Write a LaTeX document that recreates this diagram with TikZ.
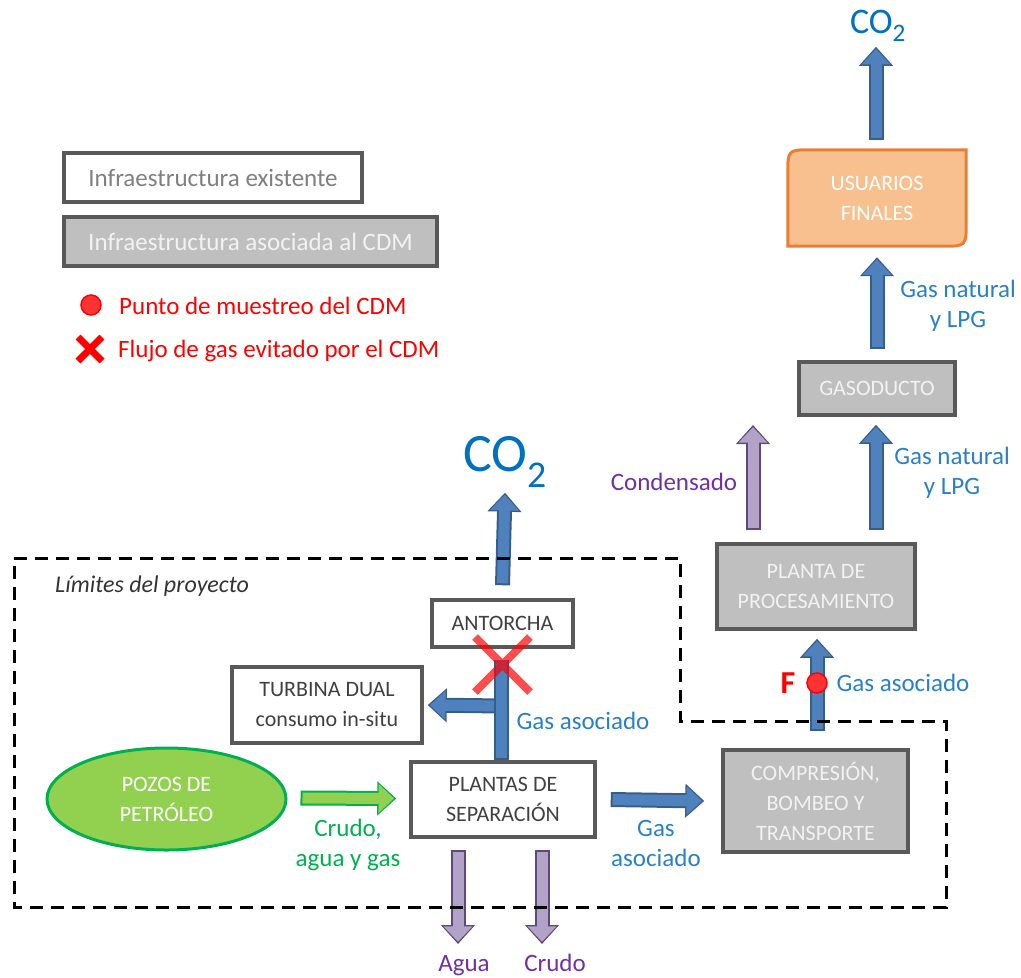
\documentclass[tikz,border=0pt]{standalone}
\usepackage{fontspec}
\setmainfont{Carlito}
\usetikzlibrary{arrows.meta,shapes.geometric,calc,backgrounds}

\definecolor{azulf}{HTML}{4F81BD}
\definecolor{azulb}{HTML}{385D8A}
\definecolor{azultx}{HTML}{2A80C8}
\definecolor{azulco}{HTML}{0070C0}
\definecolor{moradof}{HTML}{B3A2C7}
\definecolor{moradob}{HTML}{5F497A}
\definecolor{moradotx}{HTML}{7030A0}
\definecolor{verdef}{HTML}{92D050}
\definecolor{verdeb}{HTML}{00B050}
\definecolor{grisbox}{HTML}{BFBFBF}
\definecolor{grisborde}{HTML}{595959}
\definecolor{naranjaf}{HTML}{F9C08F}
\definecolor{naranjab}{HTML}{ED7D31}

\tikzset{
  cajatexto/.style={font=\fontsize{22}{30}\selectfont, align=center, inner sep=2pt},
  cajablanca/.style={cajatexto, draw=grisborde, line width=3.5pt, fill=white, text=black!75},
  cajagris/.style={cajatexto, draw=grisborde, line width=3.5pt, fill=grisbox, text=white!95!black},
  etiqueta/.style={font=\fontsize{25}{30}\selectfont, align=center, inner sep=0pt},
  bordeflecha/.style={line width=15pt, -{Triangle[length=19pt,width=33pt]}},
  cuerpoflecha/.style={line width=11pt, shorten >=2.2pt, shorten <=2pt, -{Triangle[length=15.5pt,width=28pt]}},
  limite/.style={draw=black, line width=3pt, dash pattern=on 13pt off 8pt, line join=miter},
  evitado/.style={draw=red, line width=8pt, opacity=0.7}
}

% flecha gruesa con borde: inicio, fin, color
\newcommand{\flecha}[3]{%
  \draw[bordeflecha, draw=#3b] #1 -- #2;
  \draw[cuerpoflecha, draw=#3f] #1 -- #2;}

\begin{document}
\begin{tikzpicture}[x=1pt, y=-1pt]
\useasboundingbox (0,0) rectangle (1021,978);

% leyenda
\node[cajablanca, line width=4pt, minimum width=298, minimum height=49, text=black!50, font=\fontsize{25}{30}\selectfont] (leyexist) at (213,177.5) {Infraestructura existente};
\node[cajagris, line width=4pt, minimum width=373, minimum height=49, font=\fontsize{25}{30}\selectfont] (leycdm) at (250.5,241.5) {Infraestructura asociada al CDM};
\node[circle, fill=red!80, draw=red, line width=1.5pt, minimum size=20, inner sep=0pt] (leypunto) at (91,305) {};
\node[etiqueta, text=red, anchor=west] (leypuntotx) at (119,306) {Punto de muestreo del CDM};
\draw[draw=red, line width=7pt] (78,337) -- (102,361) (78,361) -- (102,337);
\node[etiqueta, text=red, anchor=west] (leyevitadotx) at (118,351) {Flujo de gas evitado por el CDM};

% nodos
\node[font=\fontsize{24}{28}\selectfont\itshape, text=black!80, anchor=west, inner sep=0pt] (limites) at (55,586) {Límites del proyecto};
\node[ellipse, draw=verdeb, fill=verdef, line width=3pt, minimum width=239, minimum height=102, cajatexto, text=white] (pozos) at (166.5,799) {POZOS DE\\PETRÓLEO};
\node[cajablanca, minimum width=184, minimum height=75] (sep) at (503,799.5) {PLANTAS DE\\SEPARACIÓN};
\node[cajablanca, minimum width=190, minimum height=76] (turbina) at (327,705) {TURBINA DUAL\\consumo in-situ};
\node[cajablanca, minimum width=141, minimum height=47] (antorcha) at (502.5,623.5) {ANTORCHA};
\node[cajagris, minimum width=185, minimum height=102] (comp) at (815.5,801) {COMPRESIÓN,\\BOMBEO Y\\TRANSPORTE};
\node[cajagris, minimum width=198, minimum height=85] (planta) at (816,586.5) {PLANTA DE\\PROCESAMIENTO};
\node[cajagris, minimum width=156, minimum height=53] (gasoducto) at (877,388.5) {GASODUCTO};
\node[cajatexto, text=white, minimum width=178, minimum height=96] (usuarios) at (877,198) {USUARIOS\\FINALES};
\begin{scope}[on background layer]
  \draw[draw=naranjab, fill=naranjaf, line width=3pt] (usuarios.south west) -- ([yshift=-24pt]usuarios.north west) .. controls (usuarios.north west) .. ([xshift=24pt]usuarios.north west) -- (usuarios.north east) -- ([yshift=24pt]usuarios.south east) .. controls (usuarios.south east) .. ([xshift=-24pt]usuarios.south east) -- cycle;
\end{scope}
\node[font=\fontsize{54}{60}\selectfont, text=azulco, inner sep=0pt] (co2med) at (505,462) {CO\textsubscript{2}};
\node[font=\fontsize{36}{40}\selectfont, text=azulco, inner sep=0pt] (co2sup) at (878,26) {CO\textsubscript{2}};
\coordinate (cruce) at (501,660);
\coordinate (rama) at (501,706);
\coordinate (condensado) at (753,425);
\coordinate (aguafin) at (458,944);
\coordinate (crudofin) at (542,944);

% flujos
\flecha{(rama)}{($(turbina.east)+(4,0)$)}{azul}
\draw[bordeflecha, -, draw=azulb] (cruce |- sep.north) -- (cruce);
\draw[cuerpoflecha, -, shorten >=0pt, draw=azulf] (cruce |- sep.north) -- (cruce);
\flecha{($(antorcha.north)+(0,-13)$)}{($(co2med.south)+(0,5)$)}{azul}
\flecha{($(pozos.east)+(13,-1)$)}{($(sep.west)+(-13,-1)$)}{verde}
\flecha{($(sep.east)+(14,0)$)}{($(comp.west)+(-17,0)$)}{azul}
\flecha{($(sep.south)+(-45,11)$)}{(aguafin)}{morado}
\flecha{($(sep.south)+(39,11)$)}{(crudofin)}{morado}
\flecha{($(comp.north)+(1.5,-17)$)}{($(planta.south)+(1,8)$)}{azul}
\flecha{($(gasoducto.south |- planta.north)+(-1,-12)$)}{($(gasoducto.south)+(-1,8)$)}{azul}
\flecha{($(condensado |- planta.north)+(0,-12)$)}{(condensado)}{morado}
\flecha{($(gasoducto.north)+(0,-11)$)}{($(usuarios.south)+(0,11)$)}{azul}
\flecha{($(usuarios.north)+(-1,-10)$)}{($(co2sup.south)+(-2,5)$)}{azul}
\draw[evitado] (475,637) -- (530,692) (475,692) -- (530,637);
\node[circle, fill=red!80, draw=red, line width=1.5pt, minimum size=20, inner sep=0pt] (puntoF) at (817,683) {};
\node[font=\fontsize{32}{36}\selectfont\bfseries, text=red, inner sep=0pt] (letraF) at (788,683) {F};

% etiquetas
\node[etiqueta, text=azultx] (gasasoc1) at (583,721) {Gas asociado};
\node[etiqueta, text=azultx] (gasasoc2) at (656,843) {Gas\\asociado};
\node[etiqueta, text=azultx] (gasasoc3) at (903,683) {Gas asociado};
\node[etiqueta, text=verdeb] (mezcla) at (348,845) {Crudo,\\agua y gas};
\node[etiqueta, text=moradotx] (condtx) at (674,482) {Condensado};
\node[etiqueta, text=moradotx, anchor=base] (aguatx) at (464,971) {Agua};
\node[etiqueta, text=moradotx, anchor=base] (crudotx) at (555,971) {Crudo};
\node[etiqueta, text=azultx] (gasnat1) at (952,473) {Gas natural\\y LPG};
\node[etiqueta, text=azultx] (gasnat2) at (958,306) {Gas natural\\y LPG};

% limites del proyecto
\draw[limite] (14,558) -- (680,558) -- (680,721) -- (946,721) -- (946,907) -- (14,907) -- cycle;
\end{tikzpicture}
\end{document}
